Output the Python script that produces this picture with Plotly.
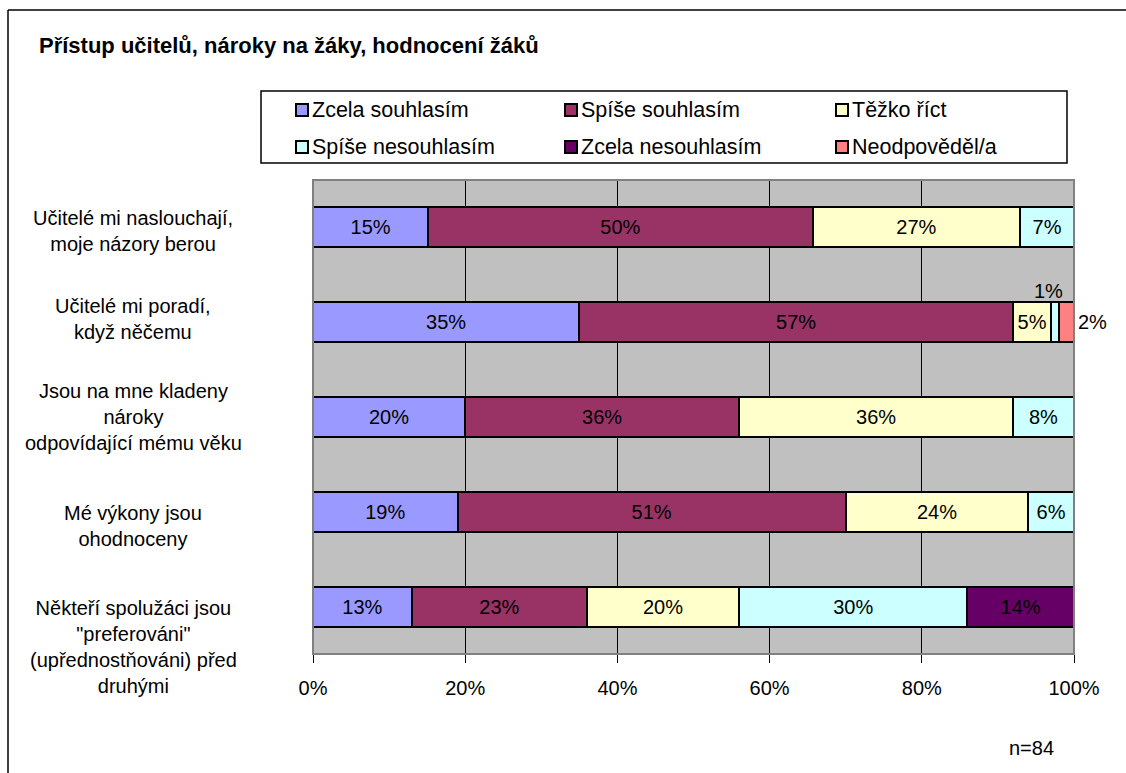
import plotly.graph_objects as go

# ---- data -----------------------------------------------------------------
categories = [
    "Učitelé mi naslouchají,<br>moje názory berou",
    "Učitelé mi poradí,<br>když něčemu",
    "Jsou na mne kladeny<br>nároky<br>odpovídající mému věku",
    "Mé výkony jsou<br>ohodnoceny",
    "Někteří spolužáci jsou<br>\"preferováni\"<br>(upřednostňováni) před<br>druhými",
]

series_names = [
    "Zcela souhlasím",
    "Spíše souhlasím",
    "Těžko říct",
    "Spíše nesouhlasím",
    "Zcela nesouhlasím",
    "Neodpověděl/a",
]

zcela_souhlasim = [15, 35, 20, 19, 13]
spise_souhlasim = [50, 57, 36, 51, 23]
tezko_rict = [27, 5, 36, 24, 20]
spise_nesouhlasim = [7, 1, 8, 6, 30]
zcela_nesouhlasim = [0, 0, 0, 0, 14]
neodpovedel = [0, 2, 0, 0, 0]

series_values = [
    zcela_souhlasim,
    spise_souhlasim,
    tezko_rict,
    spise_nesouhlasim,
    zcela_nesouhlasim,
    neodpovedel,
]

x_ticks = [0, 20, 40, 60, 80, 100]
sample_note = "n=84"
title_text = "Přístup učitelů, nároky na žáky, hodnocení žáků"

# ---- styling --------------------------------------------------------------
colors = ["#9999FF", "#993366", "#FFFFCC", "#CCFFFF", "#660066", "#FF8080"]
FONT = "Liberation Sans, Arial, sans-serif"
FS = 20
W, H = 1126, 773
L, R, T, B = 313, 1074, 180, 654  # plot area in pixels


def px(x):
    return (x - L) / (R - L)


def py(y):
    return (B - y) / (B - T)


SMALL = 3  # segments narrower than this get their label outside the bar

fig = go.Figure()
for name, vals, col in zip(series_names, series_values, colors):
    texts = [f"{v}%" if v >= SMALL else "" for v in vals]
    fig.add_trace(
        go.Bar(
            name=name,
            y=categories,
            x=vals,
            orientation="h",
            marker=dict(color=col, line=dict(color="black", width=2)),
            text=texts,
            texttemplate="%{text}",
            textposition="inside",
            insidetextanchor="middle",
            constraintext="none",
            textfont=dict(family=FONT, size=FS, color="black"),
            showlegend=False,
            hoverinfo="name+x",
        )
    )

annotations = []
shapes = []

# outside labels for very narrow segments
for ci, cat in enumerate(categories):
    row = [s[ci] for s in series_values]
    total = sum(row)
    cum = 0
    last_nonzero = max(i for i, v in enumerate(row) if v > 0)
    for si, v in enumerate(row):
        start = cum / total * 100
        cum += v
        end = cum / total * 100
        if 0 < v < SMALL:
            if si == last_nonzero:
                annotations.append(dict(
                    x=end, y=cat, xref="x", yref="y", text=f"{v}%",
                    xanchor="left", yanchor="middle", xshift=2, showarrow=False,
                    font=dict(family=FONT, size=FS, color="black")))
            else:
                annotations.append(dict(
                    x=(start + end) / 2, y=cat, xref="x", yref="y", text=f"{v}%",
                    xanchor="center", yanchor="middle", xshift=-6, yshift=31,
                    showarrow=False,
                    font=dict(family=FONT, size=FS, color="black")))

# category labels, centred text left of the plot
label_shift = [-4, 3, 0, -14, -40]
for cat, ys in zip(categories, label_shift):
    annotations.append(dict(
        x=px(133), y=cat, xref="paper", yref="y", text=cat,
        xanchor="center", yanchor="middle", align="center", yshift=ys,
        showarrow=False, font=dict(family=FONT, size=FS, color="black")))

# title
annotations.append(dict(
    x=px(37), y=py(45), xref="paper", yref="paper", text=f"<b>{title_text}</b>",
    xanchor="left", yanchor="middle", showarrow=False,
    font=dict(family=FONT, size=22, color="black")))

# sample size note
annotations.append(dict(
    x=px(1031), y=py(748), xref="paper", yref="paper", text=sample_note,
    xanchor="center", yanchor="middle", showarrow=False,
    font=dict(family=FONT, size=FS, color="black")))

# legend box with two rows of three entries
shapes.append(dict(type="rect", xref="paper", yref="paper",
                   x0=px(261), x1=px(1067), y0=py(91), y1=py(163),
                   line=dict(color="black", width=1.5), fillcolor="white",
                   layer="above"))
col_x = [296, 565, 836]
row_y = [110, 147]
for i, (name, col) in enumerate(zip(series_names, colors)):
    cx = col_x[i % 3]
    cy = row_y[i // 3]
    shapes.append(dict(type="rect", xref="paper", yref="paper",
                       x0=px(cx), x1=px(cx + 12), y0=py(cy - 6), y1=py(cy + 6),
                       line=dict(color="black", width=2), fillcolor=col,
                       layer="above"))
    annotations.append(dict(
        x=px(cx + 14), y=py(cy), xref="paper", yref="paper", text=name,
        xanchor="left", yanchor="middle", showarrow=False,
        font=dict(family=FONT, size=21.5, color="black")))

# plot-area frame
shapes.append(dict(type="rect", xref="paper", yref="paper", x0=0, x1=1, y0=0, y1=1,
                   line=dict(color="#808080", width=2), layer="above"))

# outer chart frame (top and left edges)
shapes.append(dict(type="line", xref="paper", yref="paper",
                   x0=px(8), x1=px(W + 20), y0=py(10), y1=py(10),
                   line=dict(color="black", width=1.5)))
shapes.append(dict(type="line", xref="paper", yref="paper",
                   x0=px(8), x1=px(8), y0=py(10), y1=py(H + 20),
                   line=dict(color="black", width=1.5)))

fig.update_layout(
    width=W,
    height=H,
    margin=dict(l=L, r=W - R, t=T, b=H - B, pad=0),
    barmode="stack",
    barnorm="percent",
    bargap=0.58,
    plot_bgcolor="#C0C0C0",
    paper_bgcolor="white",
    font=dict(family=FONT, size=FS, color="black"),
    showlegend=False,
    annotations=annotations,
    shapes=shapes,
    xaxis=dict(
        range=[0, 100],
        tickvals=x_ticks,
        ticktext=[f"{t}%" for t in x_ticks],
        showgrid=True,
        gridcolor="black",
        gridwidth=1,
        ticks="outside",
        ticklen=8,
        tickcolor="black",
        tickwidth=1,
        ticklabelstandoff=8,
        tickfont=dict(family=FONT, size=FS, color="black"),
        zeroline=False,
        showline=False,
        fixedrange=True,
    ),
    yaxis=dict(
        autorange="reversed",
        showticklabels=False,
        showgrid=False,
        zeroline=False,
        showline=False,
        fixedrange=True,
    ),
)

fig.write_html("out.html")
